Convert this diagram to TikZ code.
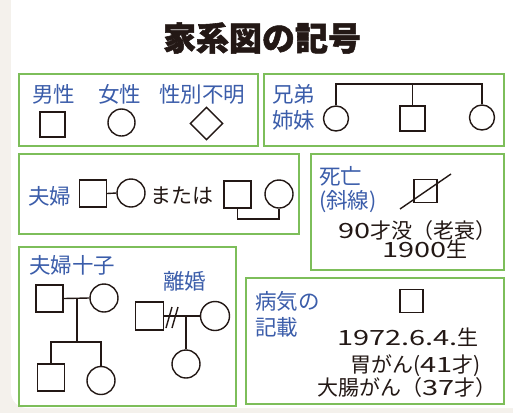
\documentclass[tikz,border=0pt]{standalone}
\usepackage{fontspec}
\usepackage{graphicx}
\setmainfont{Noto Sans CJK JP}
\newfontfamily\titlefont{Noto Sans CJK JP}[BoldFeatures={FakeBold=1.6}]
\newcommand\dgt[1]{\scalebox{1.38}[1]{#1}}
\usetikzlibrary{shapes.geometric}
\definecolor{ink}{HTML}{231815}
\definecolor{lblue}{HTML}{3B5DAA}
\definecolor{bgreen}{HTML}{7DBE5A}
\definecolor{beige}{HTML}{F4F1EC}
\tikzset{
  gbox/.style={draw=bgreen, line width=1.7},
  symline/.style={draw=ink, line width=1.4},
  sqr/.style={symline, rectangle, minimum size=#1, inner sep=0},
  sqr/.default=27,
  crc/.style={symline, circle, minimum size=#1, inner sep=0},
  crc/.default=28,
  lbl/.style={text=lblue, font=\fontsize{21.5}{22}\selectfont, inner sep=0, anchor=west},
  txt/.style={text=ink, font=\fontsize{21}{22}\selectfont, inner sep=0, text height=17, text depth=1},
}
\begin{document}
\begin{tikzpicture}[x=1pt,y=-1pt]
\useasboundingbox (0,0) rectangle (513,413);
\fill[beige] (0,0) rectangle (513,413);
\fill[white, rounded corners=16] (11,-20) rectangle (530,408);
\fill[white] (25,-1) rectangle (500,10);
% title
\node[text=ink, inner sep=0, font=\fontsize{33}{34}\selectfont\titlefont\bfseries] (title) at (262,38) {家系図の記号};
% boxes
\draw[gbox] (19,74) rectangle (258,146);
\draw[gbox] (264,74) rectangle (504,146);
\draw[gbox] (19,154) rectangle (299,234);
\draw[gbox] (311,154) rectangle (504,270);
\draw[gbox] (19,247) rectangle (236,406);
\draw[gbox] (246,278) rectangle (504,404);
% box 1
\node[lbl] (male) at (32,94) {男性};
\node[lbl] (female) at (98,94) {女性};
\node[lbl] (unk) at (159,94) {性別不明};
\node[sqr=25] (msym) at (52.5,124.5) {};
\node[crc=27] (fsym) at (121.5,122.5) {};
\node[symline, diamond, minimum size=33, inner sep=0] (usym) at (206.5,123.5) {};
% box 2
\node[lbl] (sib1) at (272,94) {兄弟};
\node[lbl] (sib2) at (272,120) {姉妹};
\node[crc=25] (c1) at (336,118.5) {};
\node[sqr=25] (s2) at (412.5,118.5) {};
\node[crc=25] (c3) at (482,117.5) {};
\coordinate (sibl) at (336,84);
\draw[symline] (c1.north) -- (sibl) -| (c3.north);
\draw[symline] (s2.north) -- (s2.north |- sibl);
% box 3
\node[lbl] (fuufu) at (28,196) {夫婦};
\node[sqr=27] (h1) at (93,193.5) {};
\node[crc=28] (w1) at (131,193) {};
\draw[symline] (h1.east) -- (w1.west);
\node[txt, anchor=west] (or) at (150,195) {または};
\node[sqr=27] (h2) at (237.5,194.5) {};
\node[crc=28] (w2) at (279,194) {};
\coordinate (b2) at (258,219);
\draw[symline] (h2.south) |- (b2) -| (w2.south);
% box 4
\node[lbl] (shibou) at (319,176) {死亡};
\node[lbl] (shasen) at (319,202) {(斜線)};
\node[sqr=23] (dsq) at (425.5,191) {};
\coordinate (d1) at (400,209);
\coordinate (d2) at (451,174);
\draw[symline] (d1) -- (d2);
\node[txt, anchor=east] (age) at (497,230) {\dgt{90}才没（老衰）};
\node[txt, anchor=east] (born) at (468,249) {\dgt{1900}生};
% box 5
\node[lbl] (fuufuko) at (29,265) {夫婦十子};
\node[sqr=27] (f) at (49.5,298.5) {};
\node[crc=28] (m) at (104,298) {};
\draw[symline] (f.east) -- (m.west);
\coordinate (fm) at (77,298);
\coordinate (bar) at (77,342);
\draw[symline] (fm) -- (bar);
\node[sqr=27] (k1) at (51,377.5) {};
\node[crc=28] (k2) at (101,380.5) {};
\draw[symline] (k1.north) |- (bar) -| (k2.north);
\node[lbl] (rikon) at (163,281) {離婚};
\node[sqr=28] (dh) at (149.5,316) {};
\node[crc=29] (dw) at (215,316) {};
\draw[symline] (dh.east) -- (dw.west);
\coordinate (sa1) at (166,328); \coordinate (sa2) at (172,307);
\coordinate (sb1) at (172,328); \coordinate (sb2) at (178,307);
\draw[symline] (sa1) -- (sa2);
\draw[symline] (sb1) -- (sb2);
\coordinate (dm) at (186,316);
\node[crc=28] (dc) at (186,364) {};
\draw[symline] (dm) -- (dc.north);
% box 6
\node[lbl] (byouki) at (255,301) {病気の};
\node[lbl] (kisai) at (255,327) {記載};
\node[sqr=23] (psq) at (411.5,301) {};
\node[txt, anchor=east] (pb) at (479,337) {\dgt{1972.6.4.}生};
\node[txt, anchor=east] (p1) at (481,364) {胃がん(\dgt{41}才)};
\node[txt, anchor=east] (p2) at (497,387) {大腸がん（\dgt{37}才）};
\end{tikzpicture}
\end{document}
